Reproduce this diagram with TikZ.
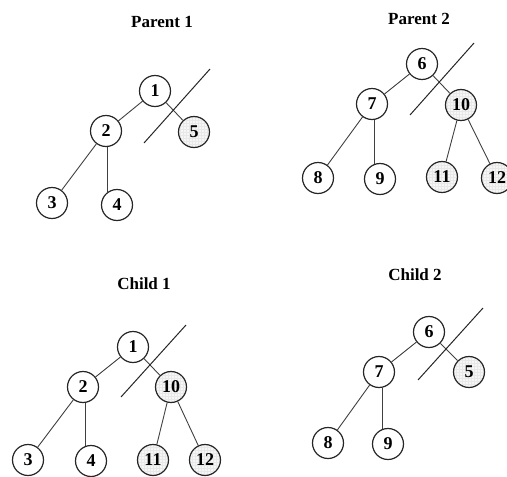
\documentclass[tikz,border=0pt]{standalone}
\usepackage{fontspec}
\setmainfont{Liberation Serif}
\usepackage{tikz}
\usetikzlibrary{positioning,patterns}

\begin{document}
\begin{tikzpicture}[
    x=1pt, y=-1pt,
    gene/.style={circle, draw=black!85, line width=1.2pt, minimum size=31pt, inner sep=0pt, font=\fontsize{18}{20}\selectfont\bfseries},
    swapped/.style={gene, preaction={fill=gray!7}, pattern=grid, pattern color=gray!18},
    edge/.style={draw=black!75, line width=0.9pt},
    cut/.style={draw=black!85, line width=1pt},
    title/.style={font=\fontsize{17}{20}\selectfont\bfseries}
]
    \useasboundingbox (0,0) rectangle (507,477);

    % Parent 1
    \node[title] (t1) at (162,22) {Parent 1};
    \node[gene] (p1-1) at (155,91) {1};
    \node[gene] (p1-2) at (106,131) {2};
    \node[swapped] (p1-5) at (194,132) {5};
    \node[gene] (p1-3) at (52,203) {3};
    \node[gene] (p1-4) at (117,205) {4};
    \draw[edge] (p1-1) -- (p1-2);
    \draw[edge] (p1-1) -- (p1-5);
    \draw[edge] (p1-2) -- (p1-3);
    \draw[edge] (p1-4.125 |- p1-2.south) -- (p1-4.125);
    \coordinate (p1cutA) at (144,143);
    \coordinate (p1cutB) at (210,69);
    \draw[cut] (p1cutA) -- (p1cutB);

    % Parent 2
    \node[title] (t2) at (419,19) {Parent 2};
    \node[gene] (p2-6) at (422,64) {6};
    \node[gene] (p2-7) at (372,104) {7};
    \node[swapped] (p2-10) at (461,105) {10};
    \node[gene] (p2-8) at (318,178) {8};
    \node[gene] (p2-9) at (380,179) {9};
    \node[swapped] (p2-11) at (442,177) {11};
    \node[swapped] (p2-12) at (497,178) {12};
    \draw[edge] (p2-6) -- (p2-7);
    \draw[edge] (p2-6) -- (p2-10);
    \draw[edge] (p2-7) -- (p2-8);
    \draw[edge] (p2-9.109 |- p2-7.south) -- (p2-9.109);
    \draw[edge] (p2-10) -- (p2-11);
    \draw[edge] (p2-10) -- (p2-12);
    \coordinate (p2cutA) at (410,115);
    \coordinate (p2cutB) at (474,43);
    \draw[cut] (p2cutA) -- (p2cutB);

    % Child 1
    \node[title] (t3) at (144,284) {Child 1};
    \node[gene] (c1-1) at (133,347) {1};
    \node[gene] (c1-2) at (83,387) {2};
    \node[swapped] (c1-10) at (171,387) {10};
    \node[gene] (c1-3) at (28,460) {3};
    \node[gene] (c1-4) at (91,461) {4};
    \node[swapped] (c1-11) at (153,460) {11};
    \node[swapped] (c1-12) at (205,460) {12};
    \draw[edge] (c1-1) -- (c1-2);
    \draw[edge] (c1-1) -- (c1-10);
    \draw[edge] (c1-2) -- (c1-3);
    \draw[edge] (c1-4.109 |- c1-2.south) -- (c1-4.109);
    \draw[edge] (c1-10) -- (c1-11);
    \draw[edge] (c1-10) -- (c1-12);
    \coordinate (c1cutA) at (121,397);
    \coordinate (c1cutB) at (186,325);
    \draw[cut] (c1cutA) -- (c1cutB);

    % Child 2
    \node[title] (t4) at (415,275) {Child 2};
    \node[gene] (c2-6) at (429,332) {6};
    \node[gene] (c2-7) at (379,372) {7};
    \node[swapped] (c2-5) at (469,372) {5};
    \node[gene] (c2-8) at (328,443) {8};
    \node[gene] (c2-9) at (388,444) {9};
    \draw[edge] (c2-6) -- (c2-7);
    \draw[edge] (c2-6) -- (c2-5);
    \draw[edge] (c2-7) -- (c2-8);
    \draw[edge] (c2-9.109 |- c2-7.south) -- (c2-9.109);
    \coordinate (c2cutA) at (418,380);
    \coordinate (c2cutB) at (483,308);
    \draw[cut] (c2cutA) -- (c2cutB);
\end{tikzpicture}
\end{document}
